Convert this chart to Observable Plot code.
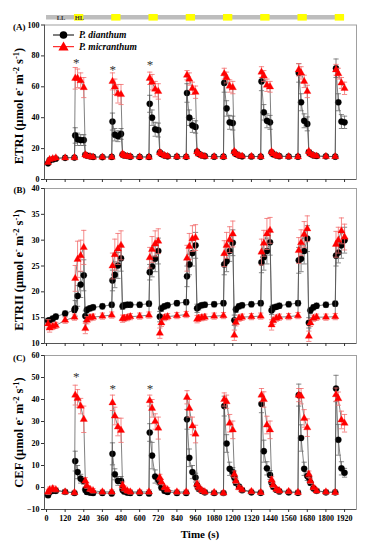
<!DOCTYPE html>
<html><head><meta charset="utf-8">
<script src="https://cdn.jsdelivr.net/npm/d3@7"></script>
<script src="https://cdn.jsdelivr.net/npm/@observablehq/plot@0.6"></script>
<style>
html,body{margin:0;padding:0;background:#fff;}
#chart{position:relative;width:370px;height:550px;overflow:hidden;font-family:"Liberation Serif","Times New Roman",serif;}
#chart svg{position:absolute;left:0;background:none;}
</style></head><body><div id="chart"></div>
<script>
// ---------- data ----------
const time = [10,20,40,60,120,180, 185,200,220,240, 250,260,280,300,360,420, 425,440,460,480, 490,500,520,540,600,660, 665,680,700,720, 730,740,760,780,840,900, 905,920,940,960, 970,980,1000,1020,1080,1140, 1145,1160,1180,1200, 1210,1220,1240,1260,1320,1380, 1385,1400,1420,1440, 1450,1460,1480,1500,1560,1620, 1625,1640,1660,1680, 1690,1700,1720,1740,1800,1860, 1865,1880,1900,1920];

const etr1Dianthum = [10.5,12.5,13,13.5,14,14.2, 28.5,26,25.5,25.5, 16,15.5,15,14.6,14.5,14.6, 37.5,29,28,29.5, 16.2,15.6,15.2,14.8,14.6,14.6, 49,40,32.5,32, 17.5,16.5,15.5,15,14.8,14.7, 56,40,35,34, 18,16.6,15.6,15.1,14.8,14.8, 62.5,46,37,36.5, 17.8,16.5,15.5,15,14.9,14.8, 63.5,43.5,38,37, 17.6,16.4,15.6,15.1,14.9,14.8, 69,50,38,36, 17.8,16.6,15.6,15.2,15,14.8, 72,50,37.5,37];
const etr1DianthumErr = [0.8,0.8,0.8,0.8,0.8,0.8, 5,4,3.5,3.5, 1.2,1,1,0.8,0.8,0.8, 5.5,4,3.5,3.5, 1.2,1,1,0.8,0.8,0.8, 5.5,5,4.5,4.5, 1.2,1,1,0.8,0.8,0.8, 6,5,4.5,4, 1.2,1,1,0.8,0.8,0.8, 6,5,4.5,4.5, 1.2,1,1,0.8,0.8,0.8, 6,5,4.5,4.5, 1.2,1,1,0.8,0.8,0.8, 6,5.5,4.5,4.5, 1.2,1,1,0.8,0.8,0.8, 6,5.5,4.5,4];
const etr1Micranthum = [11,13,13.5,14,14,14.2, 65.5,65.5,64,59.5, 16,15.2,14.8,14.5,14.5,14.5, 63.5,60,55.5,55, 16.5,15.5,15,14.8,14.6,14.5, 65.5,63,58.5,57, 17.5,16.5,15.5,15,14.8,14.7, 67.5,65,59,56.5, 18,16.5,15.5,15,14.8,14.7, 68.5,66,60.5,59.5, 18.2,16.6,15.6,15.1,14.9,14.8, 69.5,67,61,60, 18,16.5,15.5,15,14.8,14.7, 71,69,63.5,57, 18.2,16.6,15.6,15.1,14.9,14.8, 71,68.5,62.5,59];
const etr1MicranthumErr = [0.8,0.8,0.8,0.8,0.8,0.8, 7,6,5,6.5, 1.2,1,1,0.8,0.8,0.8, 5.5,5,6,6.5, 1.2,1,1,0.8,0.8,0.8, 4,5,5,5, 1.2,1,1,0.8,0.8,0.8, 3,4,4,4, 1.2,1,1,0.8,0.8,0.8, 3.5,3.5,4,4, 1.2,1,1,0.8,0.8,0.8, 3.5,3.5,4,3.5, 1.2,1,1,0.8,0.8,0.8, 4,4,4,4, 1.2,1,1,0.8,0.8,0.8, 3.5,3.5,3.5,4];

const etr2Dianthum = [14.4,14.5,14.8,15.2,15.8,16.5, 16.8,19.2,21.4,23.2, 15.3,16.5,16.8,17.0,17.2,17.5, 22.2,23.3,25.1,26.5, 17.2,17.4,17.5,17.5,17.5,17.7, 23.8,24.9,26.4,27.9, 15.2,16.8,17.2,17.4,17.8,18.0, 23.0,25.3,27.5,29.0, 16.8,17.1,17.4,17.5,17.6,17.8, 25.3,25.9,27.9,29.5, 14.5,16.6,17.2,17.4,17.6,17.8, 25.7,26.7,27.9,29.6, 16.4,16.9,17.1,17.3,17.6,17.8, 26.1,26.4,27.9,30.3, 14.0,16.4,17.0,17.3,17.5,17.7, 27.0,27.6,29.0,30.0];
const etr2DianthumErr = [0.5,0.5,0.5,0.5,0.5,0.5, 1.5,2,2.5,3, 1,0.6,0.5,0.5,0.5,0.5, 2,2.5,2.5,2.5, 0.6,0.5,0.5,0.5,0.5,0.5, 1.5,2,2.5,2.5, 1,0.6,0.5,0.5,0.5,0.5, 2,2,2.5,2.5, 0.8,0.6,0.5,0.5,0.5,0.5, 2,2,2,2.5, 1,0.6,0.5,0.5,0.5,0.5, 2,2.5,2.5,2.5, 0.8,0.6,0.5,0.5,0.5,0.5, 2.5,2.5,2.5,2.5, 1,0.6,0.5,0.5,0.5,0.5, 2,2,2.5,2.5];
const etr2Micranthum = [13.8,13.0,13.3,13.5,14.5,15.1, 22.6,26.3,27.0,28.6, 12.9,14.5,15.0,15.1,15.3,15.5, 25.0,27.2,28.3,29.0, 14.8,14.9,15.0,15.2,15.3,15.5, 26.6,28.2,29.3,29.8, 12.0,14.0,15.0,15.2,15.4,15.6, 26.5,28.8,30.3,30.5, 14.7,14.9,15.0,15.1,15.3,15.4, 27.4,29.0,30.1,31.2, 11.6,14.1,14.9,15.1,15.2,15.3, 27.7,29.4,31.2,31.9, 13.6,14.4,14.9,15.1,15.2,15.4, 28.0,29.5,31.1,32.2, 11.4,14.0,14.9,15.1,15.1,15.2, 29.2,30.0,31.8,30.6];
const etr2MicranthumErr = [0.8,0.8,0.6,0.6,0.6,0.6, 2.5,3.5,3,3.3, 1,0.7,0.6,0.6,0.6,0.6, 2.5,3,3,2.8, 0.7,0.6,0.6,0.6,0.6,0.6, 2,2.5,2.5,2.4, 1,0.7,0.6,0.6,0.6,0.6, 2.5,2.5,2.5,2.5, 0.7,0.6,0.6,0.6,0.6,0.6, 2.5,2.5,2.5,2.5, 1,0.7,0.6,0.6,0.6,0.6, 2.5,2.5,3,2.5, 1,0.7,0.6,0.6,0.6,0.6, 2.5,2.5,2.5,2.5, 1,0.7,0.6,0.6,0.6,0.6, 2.5,2.5,2.5,2.5];

const cefDianthum = [-3.5,-2,-1.5,-1.5,-2,-2.5, 12,7,4,3, -1,-2,-2.3,-2.5,-2.5,-2.7, 15.3,6,3,3, -1,-1.8,-2.3,-2.5,-2.5,-2.7, 25,14.5,5,3.5, 2.5,0,-1.5,-2,-2.5,-2.5, 31,13.5,7,4.5, 1,-0.5,-1.5,-2.2,-2.5,-2.5, 37,20,8.5,7, 4.5,2.2,0.4,-1.2,-2.2,-2.4, 38,16.5,8.7,5.7, 2.2,0.4,-1,-1.8,-2.2,-2.4, 42,22.5,8.5,5.2, 4.5,2.2,-0.4,-1.5,-2.2,-2.2, 45,21.7,8.7,6.7];
const cefDianthumErr = [1,1,1,1,1,1, 4.5,3,2,1.5, 1.2,1,1,1,1,1, 5,2.5,2,2, 1.2,1,1,1,1,1, 4,6,3,2, 1.5,1.2,1,1,1,1, 4.5,4,3,2, 1.5,1.2,1,1,1,1, 4.5,4,3,2, 1.5,1.2,1,1,1,1, 4,5,3,2, 1.5,1.2,1,1,1,1, 5,6,3,2, 1.5,1.2,1,1,1,1, 6,7,3,2];
const cefMicranthum = [-2,-1,-0.5,-1,-2,-2.3, 42,40.5,37,31, 3,0.8,-0.8,-1.5,-2,-2, 38.5,32.5,27.5,26, 1,-0.5,-1.5,-2,-2,-2, 39.5,36,30,27, 4.5,2.5,0,-1,-2,-2, 41,36,28,24.3, 1.5,0,-1.2,-2,-2.3,-2.5, 40,39,29.2,26.2, 6,3,0,-1,-1.8,-2.2, 42,40,28.4,26.2, 3.4,1.2,-0.7,-1.5,-1.8,-2.2, 42,41.5,31.4,27.2, 6,3,0,-1.5,-2,-2.2, 42.2,40.4,30.7,29.2];
const cefMicranthumErr = [1.2,1.2,1.2,1,1,1, 4.5,4,3.5,6, 1.5,1.2,1,1,1,1, 3.5,4,4,5.5, 1.5,1.2,1,1,1,1, 2.5,4,3.5,5, 1.5,1.2,1,1,1,1, 3,4,4,4, 1.5,1.2,1,1,1,1, 3,3,4,4, 1.5,1.2,1,1,1,1, 3,3.5,4,4, 1.5,1.2,1,1,1,1, 3,3.5,4,4, 1.5,1.2,1,1,1,1, 3,3,4,4];

const xTicks = [0,120,240,360,480,600,720,840,960,1080,1200,1320,1440,1560,1680,1800,1920];
const yTicksA = [0,20,40,60,80,100];
const yTicksB = [10,15,20,25,30,35,40];
const yTicksC = [-10,0,10,20,30,40,50,60];

const regimeStart = 0, regimeEnd = 1920;
const highLightStarts = [180,420,660,900,1140,1380,1620,1860];
const highLightLength = 60;
const regimeLabels = ["LL","HL"];
const regimeLabelTimes = [93, 212];

const starTimes = [192, 427, 666];
const starEtr1 = [75.5, 71, 74.3];
const starCef = [50.3, 45, 45];

const seriesNames = ["P. dianthum", "P. micranthum"];

// ---------- helpers ----------
const xDomain = [-13, 1997];
const rows = (v, e) => time.map((t, i) => ({t, v: v[i], e: e[i]}));
const capSymbol = {draw(ctx, size) { const w = Math.sqrt(size / Math.PI); ctx.moveTo(-w, 0); ctx.lineTo(w, 0); }};
const chart = document.getElementById("chart");

function seriesMarks(data, kind) {
  const isRed = kind === "red";
  const ebColor = isRed ? "#f26d6d" : "#6a6a6a";
  return [
    Plot.line(data, {x: "t", y: "v", stroke: "#4a4a4a", strokeWidth: 0.7}),
    Plot.ruleX(data, {x: "t", y1: d => d.v - d.e, y2: d => d.v + d.e, stroke: ebColor, strokeWidth: 0.8}),
    Plot.dot(data, {x: "t", y: d => d.v + d.e, symbol: capSymbol, r: 2.6, fill: "none", stroke: ebColor, strokeWidth: 0.8}),
    Plot.dot(data, {x: "t", y: d => d.v - d.e, symbol: capSymbol, r: 2.6, fill: "none", stroke: ebColor, strokeWidth: 0.8}),
    isRed
      ? Plot.dot(data, {x: "t", y: "v", symbol: "triangle", r: 2.7, fill: "#ff0000", stroke: "#ff0000", strokeWidth: 0.3})
      : Plot.dot(data, {x: "t", y: "v", r: 3.1, fill: "#000", stroke: "#000", strokeWidth: 0.3})
  ];
}

function panel({top, height, marginTop, marginBottom, yDomain, yTicks, black, red, xLabels, stars}) {
  const marks = [
    Plot.frame({stroke: "#a0a0a0", strokeWidth: 1}),
    Plot.ruleX([xDomain[0]], {stroke: "#555", strokeWidth: 1}),
    Plot.ruleY([yDomain[0]], {stroke: "#555", strokeWidth: 1}),
    Plot.axisY({ticks: yTicks, tickSize: 3, tickPadding: 2, label: null, stroke: "#333"}),
    Plot.axisX({ticks: xTicks, tickSize: 3, tickPadding: 3, label: null, stroke: "#333",
      tickFormat: xLabels ? (d => String(d)) : (() => "")}),
    ...seriesMarks(black, "black"),
    ...seriesMarks(red, "red")
  ];
  if (stars) marks.push(Plot.text(stars, {x: "t", y: "v", text: () => "*", fontSize: 13, fontWeight: "normal", fill: "#333"}));
  const svg = Plot.plot({
    width: 370, height, marginLeft: 44, marginRight: 14, marginTop, marginBottom,
    x: {domain: xDomain}, y: {domain: yDomain},
    style: {fontFamily: "'Liberation Serif', serif", fontSize: "8px", fontWeight: "bold", color: "#000", background: "none", overflow: "visible"},
    marks
  });
  svg.style.top = top + "px";
  chart.appendChild(svg);
  return svg;
}

function yLabel(svg, x, y, parts) {
  const t = d3.select(svg).append("text")
    .attr("transform", `translate(${x},${y}) rotate(-90)`)
    .attr("text-anchor", "middle")
    .style("font", "bold 12.5px 'Liberation Serif', serif").attr("fill", "#000");
  let up = false;
  parts.forEach(([s, sup]) => {
    const sp = t.append("tspan").text(s);
    if (sup) sp.attr("dy", up ? 0 : -4.5).style("font-size", "8.5px");
    else sp.attr("dy", up ? 4.5 : 0);
    up = !!sup;
  });
}
function panelLetter(svg, x, y, s) {
  d3.select(svg).append("text").attr("x", x).attr("y", y).attr("text-anchor", "end")
    .style("font", "bold 9px 'Liberation Serif', serif").attr("fill", "#000").text(s);
}

// ---------- regime bar ----------
const bar = Plot.plot({
  width: 370, height: 24, marginLeft: 44, marginRight: 14, marginTop: 0, marginBottom: 0,
  x: {domain: xDomain, axis: null}, y: {type: "identity", axis: null},
  style: {background: "none", overflow: "visible"},
  marks: [
    Plot.rect([{a: regimeStart, b: regimeEnd}], {x1: "a", x2: "b", y1: 15, y2: 19.5, fill: "#bdbdbd"}),
    Plot.rect(highLightStarts, {x1: d => d, x2: d => d + highLightLength, y1: 14, y2: 20.6, fill: "#ffff00"}),
    Plot.text(regimeLabels, {x: (d, i) => regimeLabelTimes[i], y: 17.4, text: d => d, fontSize: 6.5, fontWeight: "bold", fill: "#333", fontFamily: "'Liberation Serif', serif"})
  ]
});
bar.style.top = "0px";
chart.appendChild(bar);

// ---------- panels ----------
const svgA = panel({top: 0, height: 185, marginTop: 24.5, marginBottom: 6, yDomain: [0, 100], yTicks: yTicksA,
  black: rows(etr1Dianthum, etr1DianthumErr), red: rows(etr1Micranthum, etr1MicranthumErr), xLabels: false,
  stars: starTimes.map((t, i) => ({t, v: starEtr1[i]}))});
const svgB = panel({top: 184, height: 165, marginTop: 4, marginBottom: 6, yDomain: [10, 40], yTicks: yTicksB,
  black: rows(etr2Dianthum, etr2DianthumErr), red: rows(etr2Micranthum, etr2MicranthumErr), xLabels: false});
const svgC = panel({top: 349, height: 201, marginTop: 6, marginBottom: 41, yDomain: [-10, 60], yTicks: yTicksC,
  black: rows(cefDianthum, cefDianthumErr), red: rows(cefMicranthum, cefMicranthumErr), xLabels: true,
  stars: starTimes.map((t, i) => ({t, v: starCef[i]}))});

yLabel(svgA, 23, 106, [["ETRI (\u03bcmol e", 0], ["-", 1], [" m", 0], ["-2", 1], [" s", 0], ["-1", 1], [")", 0]]);
yLabel(svgB, 23, 270 - 184, [["ETRII (\u03bcmol e", 0], ["-", 1], [" m", 0], ["-2", 1], [" s", 0], ["-1", 1], [")", 0]]);
yLabel(svgC, 23, 432.5 - 349, [["CEF (\u03bcmol e", 0], ["-", 1], [" m", 0], ["-2", 1], [" s", 0], ["-1", 1], [")", 0]]);
panelLetter(svgA, 25.5, 29.7, "(A)");
panelLetter(svgB, 25.5, 193.2 - 184, "(B)");
panelLetter(svgC, 25.5, 361.2 - 349, "(C)");

d3.select(svgC).append("text").attr("x", 200).attr("y", 538 - 349).attr("text-anchor", "middle")
  .style("font", "bold 11px 'Liberation Serif', serif").attr("fill", "#000").text("Time (s)");

// ---------- legend (panel A) ----------
const lg = d3.select(svgA).append("g").attr("text-anchor", "start");
[[35, "#000", "circle"], [46.7, "#ff0000", "triangle"]].forEach(([y, c, shape], i) => {
  lg.append("line").attr("x1", 53).attr("x2", 74).attr("y1", y).attr("y2", y).attr("stroke", c).attr("stroke-width", 1);
  if (shape === "circle") lg.append("circle").attr("cx", 63.5).attr("cy", y).attr("r", 3.8).attr("fill", c);
  else lg.append("path").attr("transform", `translate(63.5,${y + 0.8})`).attr("d", d3.symbol(d3.symbolTriangle, 45)()).attr("fill", c);
  lg.append("text").attr("x", 79).attr("y", y + 3.3).attr("text-anchor", "start")
    .style("font", "italic bold 9.5px 'Liberation Serif', serif").attr("fill", "#000").text(seriesNames[i]);
});
</script>
</body></html>
